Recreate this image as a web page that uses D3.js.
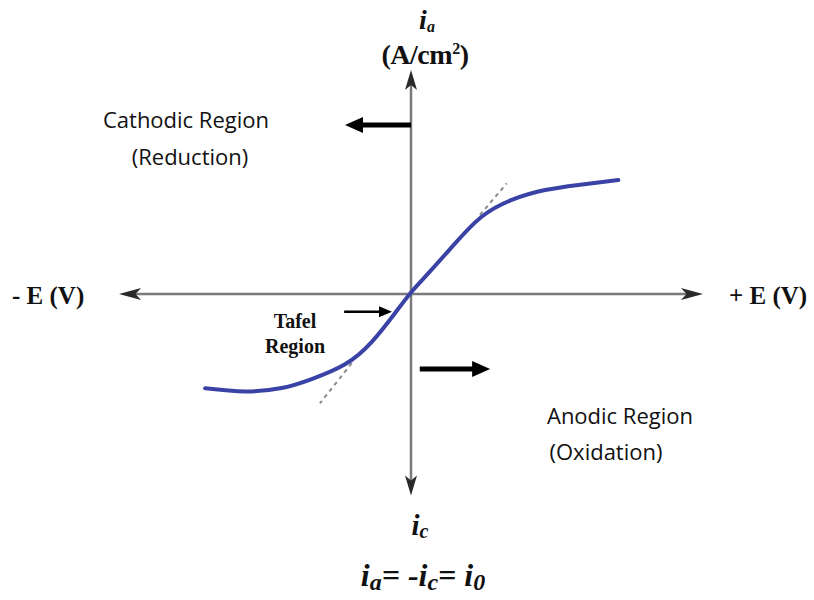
<!DOCTYPE html>
<html>
<head>
<meta charset="utf-8">
<script src="https://cdn.jsdelivr.net/npm/d3@7"></script>
<style>
  html, body { margin: 0; padding: 0; background: #fff; }
  svg { display: block; }
  .serif { font-family: "Liberation Serif", "DejaVu Serif", serif; font-weight: bold; fill: #111; }
  .sans { font-family: "Open Sans", Lato, sans-serif; fill: #111; }
</style>
</head>
<body>
<svg id="chart" width="814" height="600"></svg>
<script>
// Polarization curve: potential E (relative) vs current density i
const potential = [-0.705, -0.568, -0.443, -0.340, -0.226, -0.135, -0.055, 0.002, 0.059, 0.151, 0.242, 0.345, 0.459, 0.573, 0.710];
const current   = [-0.421, -0.435, -0.420, -0.380, -0.314, -0.215, -0.086, 0.010, 0.092, 0.226, 0.345, 0.420, 0.464, 0.487, 0.509];

// Tafel tangent lines (start/end in E and i)
const tangentE = [[0.236, 0.328], [-0.203, -0.312]];
const tangentI = [[0.353, 0.494], [-0.309, -0.488]];

// Annotation arrows: tail E, head E, at current level i
const arrowTailE = [0.000, 0.030, -0.229];
const arrowHeadE = [-0.226, 0.271, -0.065];
const arrowLevel = [0.754, -0.335, -0.079];
const arrowWeight = [5, 5, 2.5];

const svg = d3.select("#chart");

const x = d3.scaleLinear().domain([-1, 1]).range([119, 703]);
const y = d3.scaleLinear().domain([-0.9, 1]).range([495.6, 70]);

const axisColor = "#7a7a7a";
const headColor = "#2a2a2a";

// Axis lines
svg.append("line")
  .attr("x1", x(-1) + 12).attr("x2", x(1) - 12)
  .attr("y1", y(0)).attr("y2", y(0))
  .attr("stroke", axisColor).attr("stroke-width", 2.5);
svg.append("line")
  .attr("x1", x(0)).attr("x2", x(0))
  .attr("y1", y(1) + 12).attr("y2", y(-0.9) - 12)
  .attr("stroke", axisColor).attr("stroke-width", 2.5);

// Axis arrowheads
function head(tipX, tipY, dx, dy, len, half, color) {
  const bx = tipX - dx * len, by = tipY - dy * len;
  const px = -dy * half, py = dx * half;
  svg.append("path")
    .attr("d", `M${tipX},${tipY}L${bx + px},${by + py}L${bx + dx * len * 0.25},${by + dy * len * 0.25}L${bx - px},${by - py}Z`)
    .attr("fill", color);
}
head(x(-1), y(0), -1, 0, 22, 6, headColor);
head(x(1), y(0), 1, 0, 22, 6, headColor);
head(x(0), y(1), 0, -1, 20, 6, headColor);
head(x(0), y(-0.9), 0, 1, 20, 6, headColor);

// Tangent dashed lines
tangentE.forEach((e, k) => {
  svg.append("line")
    .attr("x1", x(e[0])).attr("y1", y(tangentI[k][0]))
    .attr("x2", x(e[1])).attr("y2", y(tangentI[k][1]))
    .attr("stroke", "#8a8a8a").attr("stroke-width", 2)
    .attr("stroke-dasharray", "4,4");
});

// Polarization curve
const pts = potential.map((e, k) => [e, current[k]]);
svg.append("path")
  .datum(pts)
  .attr("d", d3.line().x(d => x(d[0])).y(d => y(d[1])).curve(d3.curveNatural))
  .attr("fill", "none")
  .attr("stroke", "#3a42a6")
  .attr("stroke-width", 4)
  .attr("stroke-linecap", "round");

// Annotation arrows
arrowTailE.forEach((e0, k) => {
  const x0 = x(e0), x1 = x(arrowHeadE[k]), yy = y(arrowLevel[k]);
  const dir = Math.sign(x1 - x0);
  const w = arrowWeight[k];
  const len = w > 3 ? 18 : 13, half = w > 3 ? 8 : 5.5;
  svg.append("line")
    .attr("x1", x0).attr("x2", x1 - dir * len * 0.8)
    .attr("y1", yy).attr("y2", yy)
    .attr("stroke", "#000").attr("stroke-width", w);
  svg.append("path")
    .attr("d", `M${x1},${yy}L${x1 - dir * len},${yy - half}L${x1 - dir * len},${yy + half}Z`)
    .attr("fill", "#000");
});

// Axis titles
const anodicTitle = svg.append("text").attr("class", "serif").attr("text-anchor", "middle")
  .attr("x", 427).attr("y", 29).style("font-size", "28px").style("font-style", "italic");
anodicTitle.append("tspan").text("i");
anodicTitle.append("tspan").text("a").style("font-size", "16px").attr("dy", 3);

const unitTitle = svg.append("text").attr("class", "serif").attr("text-anchor", "middle")
  .attr("x", 425).attr("y", 64).style("font-size", "28px").style("letter-spacing", "-0.5px");
unitTitle.append("tspan").text("(A/cm");
unitTitle.append("tspan").text("2").style("font-size", "16px").attr("dy", -10);
unitTitle.append("tspan").text(")").attr("dy", 10);

svg.append("text").attr("class", "serif").attr("x", 12).attr("y", 304)
  .style("font-size", "25px").text("- E (V)");
svg.append("text").attr("class", "serif").attr("x", 729).attr("y", 304)
  .style("font-size", "25px").text("+ E (V)");

const cathodicTitle = svg.append("text").attr("class", "serif").attr("text-anchor", "middle")
  .attr("x", 420).attr("y", 535).style("font-size", "29px").style("font-style", "italic");
cathodicTitle.append("tspan").text("i");
cathodicTitle.append("tspan").text("c").style("font-size", "20px").attr("dy", 3);

// Exchange current relation
const eq = svg.append("text").attr("class", "serif").attr("text-anchor", "middle")
  .attr("x", 423).attr("y", 586).style("font-size", "32px").style("font-style", "italic");
eq.append("tspan").text("i");
eq.append("tspan").text("a").style("font-size", "24px").attr("dy", 4);
eq.append("tspan").text("= -i").attr("dy", -4);
eq.append("tspan").text("c").style("font-size", "24px").attr("dy", 4);
eq.append("tspan").text("= i").attr("dy", -4);
eq.append("tspan").text("0").style("font-size", "24px").attr("dy", 4);

// Region labels
svg.append("text").attr("class", "serif").attr("text-anchor", "middle")
  .attr("x", 295).attr("y", 328).style("font-size", "20px").text("Tafel");
svg.append("text").attr("class", "serif").attr("text-anchor", "middle")
  .attr("x", 295).attr("y", 353).style("font-size", "20px").text("Region");

svg.append("text").attr("class", "sans").attr("text-anchor", "middle")
  .attr("x", 186).attr("y", 128).style("font-size", "22px").text("Cathodic Region");
svg.append("text").attr("class", "sans").attr("text-anchor", "middle")
  .attr("x", 190).attr("y", 165).style("font-size", "22px").text("(Reduction)");
svg.append("text").attr("class", "sans").attr("text-anchor", "middle")
  .attr("x", 620).attr("y", 424).style("font-size", "22px").text("Anodic Region");
svg.append("text").attr("class", "sans").attr("text-anchor", "middle")
  .attr("x", 606).attr("y", 460).style("font-size", "22px").text("(Oxidation)");
</script>
</body>
</html>
